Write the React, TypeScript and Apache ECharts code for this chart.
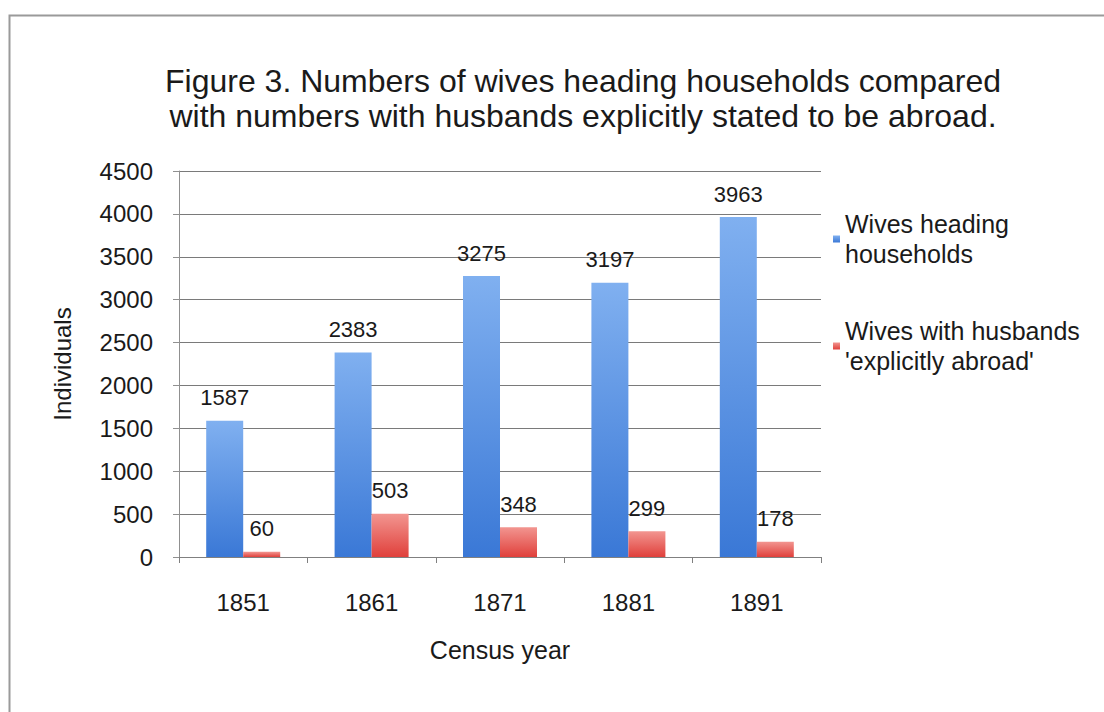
import React, { useEffect, useRef } from "react";
import * as echarts from "echarts";

const titleLines = [
  "Figure 3. Numbers of wives heading households compared",
  "with numbers with husbands explicitly stated to be abroad.",
];
const categories = ["1851", "1861", "1871", "1881", "1891"];
const seriesNames = ["Wives heading\nhouseholds", "Wives with husbands\n'explicitly abroad'"];
const wivesHeading = [1587, 2383, 3275, 3197, 3963];
const husbandsAbroad = [60, 503, 348, 299, 178];
const yAxisName = "Individuals";
const xAxisName = "Census year";

const FONT = "'Liberation Sans', Arial, sans-serif";

export default function App() {
  const ref = useRef<HTMLDivElement>(null);
  useEffect(() => {
    if (!ref.current) return;
    const chart = echarts.init(ref.current, null, { renderer: "svg" });
    const blueGrad = new echarts.graphic.LinearGradient(0, 0, 0, 1, [
      { offset: 0, color: "#80b0f0" },
      { offset: 1, color: "#3a78d6" },
    ]);
    const redGrad = new echarts.graphic.LinearGradient(0, 0, 0, 1, [
      { offset: 0, color: "#f29590" },
      { offset: 1, color: "#e0403b" },
    ]);
    chart.setOption({
      animation: false,
      backgroundColor: "#ffffff",
      textStyle: { fontFamily: FONT },
      title: {
        text: titleLines.join("\n"),
        left: 578,
        textAlign: "center",
        top: 58,
        textStyle: {
          fontFamily: FONT,
          fontSize: 32,
          fontWeight: "normal",
          color: "#1a1a1a",
          lineHeight: 35,
        },
      },
      graphic: [
        {
          type: "rect",
          shape: { x: 9.5, y: 15.5, width: 1200, height: 800 },
          style: { fill: "none", stroke: "#9a9a9a", lineWidth: 2 },
          silent: true,
          z: -1,
        },
      ],
      legend: {
        orient: "vertical",
        left: 828,
        top: 204,
        itemWidth: 7,
        itemHeight: 7,
        itemGap: 47,
        icon: "rect",
        textStyle: { fontFamily: FONT, fontSize: 25, color: "#1a1a1a", lineHeight: 30 },
        data: seriesNames,
      },
      grid: { left: 179, right: 283, top: 171, bottom: 155 },
      xAxis: {
        type: "category",
        data: categories,
        name: xAxisName,
        nameLocation: "middle",
        nameGap: 80,
        nameTextStyle: { fontFamily: FONT, fontSize: 25, color: "#1a1a1a" },
        axisLine: { show: true, lineStyle: { color: "#808080", width: 1 } },
        axisTick: { show: true, length: 6, lineStyle: { color: "#808080" } },
        axisLabel: { fontFamily: FONT, fontSize: 24, color: "#1a1a1a", margin: 33 },
      },
      yAxis: {
        type: "value",
        min: 0,
        max: 4500,
        interval: 500,
        name: yAxisName,
        nameLocation: "middle",
        nameRotate: 90,
        nameGap: 105,
        nameTextStyle: { fontFamily: FONT, fontSize: 24, color: "#1a1a1a" },
        axisLine: { show: true, lineStyle: { color: "#909090", width: 1 } },
        axisTick: { show: true, length: 6, lineStyle: { color: "#909090" } },
        axisLabel: {
          fontFamily: FONT,
          fontSize: 24,
          color: "#1a1a1a",
          margin: 26,
          formatter: (v: number) => String(v),
        },
        splitLine: { show: true, lineStyle: { color: "#7a7a7a", width: 1 } },
      },
      series: [
        {
          name: seriesNames[0],
          type: "bar",
          data: wivesHeading,
          barWidth: 37,
          barGap: "0%",
          itemStyle: { color: blueGrad },
          label: {
            show: true,
            position: "top",
            distance: 12,
            fontFamily: FONT,
            fontSize: 22,
            color: "#1a1a1a",
          },
        },
        {
          name: seriesNames[1],
          type: "bar",
          data: husbandsAbroad,
          barWidth: 37,
          barGap: "0%",
          itemStyle: { color: redGrad },
          label: {
            show: true,
            position: "top",
            distance: 12,
            fontFamily: FONT,
            fontSize: 22,
            color: "#1a1a1a",
          },
        },
      ],
    });
    return () => chart.dispose();
  }, []);
  return (
    <div
      ref={ref}
      style={{ position: "fixed", left: 0, top: 0, width: 1104, height: 712 }}
    />
  );
}
